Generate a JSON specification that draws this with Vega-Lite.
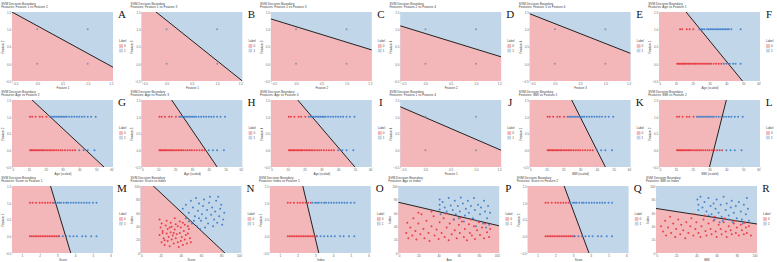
{
  "$schema": "https://vega.github.io/schema/vega-lite/v6.json",
  "background": "white",
  "padding": {"left": 1, "top": 1, "right": 0, "bottom": 0},
  "spacing": 0,
  "resolve": {"scale": {"color": "independent", "fill": "independent"}, "legend": {"color": "independent"}},
  "config": {
    "view": {"fill": "#C2D6EA", "stroke": null},
    "font": "Liberation Sans",
    "title": {"fontSize": 3.2, "fontWeight": "normal", "anchor": "start", "offset": 0.5, "color": "#444", "lineHeight": 3.6, "frame": "bounds"},
    "axis": {"grid": false, "domain": false, "tickSize": 0.8, "tickColor": "#888", "tickWidth": 0.4, "labelFontSize": 3, "labelColor": "#666", "labelPadding": 0.5, "titleFontSize": 3, "titleFontWeight": "normal", "titleColor": "#444", "titlePadding": 0.6},
    "axisX": {"tickCount": 6},
    "axisY": {"tickCount": 5},
    "legend": {"titleFontSize": 3, "labelFontSize": 3, "symbolType": "square", "symbolSize": 14, "symbolStrokeWidth": 0, "rowPadding": 0.6, "titlePadding": 1, "labelOffset": 1, "padding": 0, "titleFontWeight": "normal", "titleColor": "#444", "labelColor": "#444"}
  },
  "datasets": {
    "pBin": [{"x": 0, "y": 0}, {"x": 0, "y": 1}, {"x": 1, "y": 0}, {"x": 1, "y": 1}],
    "bA": [{"x": -0.5, "y": 1.5, "g": "0"}, {"x": 1.5, "y": -0.1, "g": "0"}],
    "bB": [{"x": -0.5, "y": 1.84, "g": "0"}, {"x": 1.5, "y": -0.5, "g": "0"}],
    "bC": [{"x": -0.5, "y": 1.3, "g": "0"}, {"x": 1.5, "y": 0.4, "g": "0"}],
    "bD": [{"x": -0.5, "y": 1.1, "g": "0"}, {"x": 1.5, "y": 0.2, "g": "0"}],
    "bE": [{"x": -0.5, "y": 1.45, "g": "0"}, {"x": 1.5, "y": 0.3, "g": "0"}],
    "bF": [{"x": 0, "y": 2.46, "g": "0"}, {"x": 60, "y": -1.12, "g": "0"}],
    "bG": [{"x": 0, "y": 2.06, "g": "0"}, {"x": 60, "y": -0.75, "g": "0"}],
    "bH": [{"x": 0, "y": 2.83, "g": "0"}, {"x": 60, "y": -1.61, "g": "0"}],
    "bI": [{"x": 0, "y": 2.44, "g": "0"}, {"x": 60, "y": -1.09, "g": "0"}],
    "bJ": [{"x": -0.5, "y": 1.3, "g": "0"}, {"x": 1.5, "y": 0.0, "g": "0"}],
    "bK": [{"x": 0, "y": 4.0, "g": "0"}, {"x": 60, "y": -2.0, "g": "0"}],
    "bL": [{"x": 0, "y": -6.5, "g": "0"}, {"x": 60, "y": 5.5, "g": "0"}],
    "bM": [{"x": 0.44, "y": 5.31, "g": "0"}, {"x": 6.13, "y": -4.68, "g": "0"}],
    "bN": [{"x": 0, "y": 118.1, "g": "0"}, {"x": 100, "y": -23.1, "g": "0"}],
    "bO": [{"x": 0.44, "y": 5.63, "g": "0"}, {"x": 6.13, "y": -7.01, "g": "0"}],
    "bP": [{"x": 0, "y": 75.8, "g": "0"}, {"x": 100, "y": 40.6, "g": "0"}],
    "bQ": [{"x": 0.44, "y": 4.44, "g": "0"}, {"x": 6.13, "y": -3.69, "g": "0"}],
    "bR": [{"x": 0, "y": 66.5, "g": "0"}, {"x": 100, "y": 43.3, "g": "0"}],
    "pF": [
      {"x": 12.5, "y": 1, "c": "0"}, {"x": 13.8, "y": 1, "c": "0"}, {"x": 16.5, "y": 1, "c": "0"}, {"x": 18.2, "y": 1, "c": "0"}, {"x": 20.4, "y": 1, "c": "0"},
      {"x": 24, "y": 1, "c": "1"}, {"x": 25, "y": 1, "c": "1"}, {"x": 26, "y": 1, "c": "1"}, {"x": 27, "y": 1, "c": "1"}, {"x": 28.5, "y": 1, "c": "1"}, {"x": 29.5, "y": 1, "c": "1"}, {"x": 30.5, "y": 1, "c": "1"}, {"x": 31.5, "y": 1, "c": "1"}, {"x": 32.5, "y": 1, "c": "1"}, {"x": 33.5, "y": 1, "c": "1"}, {"x": 34.5, "y": 1, "c": "1"}, {"x": 35.5, "y": 1, "c": "1"}, {"x": 36.5, "y": 1, "c": "1"}, {"x": 37.5, "y": 1, "c": "1"}, {"x": 38.5, "y": 1, "c": "1"}, {"x": 39.5, "y": 1, "c": "1"}, {"x": 40.5, "y": 1, "c": "1"}, {"x": 41.5, "y": 1, "c": "1"}, {"x": 43, "y": 1, "c": "1"}, {"x": 48.5, "y": 1, "c": "1"},
      {"x": 10.8, "y": 0, "c": "0"}, {"x": 11.5, "y": 0, "c": "0"}, {"x": 12.2, "y": 0, "c": "0"}, {"x": 13, "y": 0, "c": "0"}, {"x": 13.8, "y": 0, "c": "0"}, {"x": 14.5, "y": 0, "c": "0"}, {"x": 15.3, "y": 0, "c": "0"}, {"x": 16, "y": 0, "c": "0"}, {"x": 17, "y": 0, "c": "0"}, {"x": 17.8, "y": 0, "c": "0"}, {"x": 18.6, "y": 0, "c": "0"}, {"x": 19.5, "y": 0, "c": "0"}, {"x": 20.5, "y": 0, "c": "0"}, {"x": 21.3, "y": 0, "c": "0"}, {"x": 22, "y": 0, "c": "0"}, {"x": 23, "y": 0, "c": "0"}, {"x": 24, "y": 0, "c": "0"}, {"x": 25, "y": 0, "c": "0"}, {"x": 26, "y": 0, "c": "0"}, {"x": 27, "y": 0, "c": "0"}, {"x": 28, "y": 0, "c": "0"}, {"x": 29, "y": 0, "c": "0"}, {"x": 30, "y": 0, "c": "0"}, {"x": 31, "y": 0, "c": "0"}, {"x": 32.5, "y": 0, "c": "0"}, {"x": 34, "y": 0, "c": "0"}, {"x": 35.5, "y": 0, "c": "0"}, {"x": 37, "y": 0, "c": "0"},
      {"x": 38.5, "y": 0, "c": "1"}, {"x": 40, "y": 0, "c": "1"}, {"x": 42, "y": 0, "c": "1"}, {"x": 44, "y": 0, "c": "1"}, {"x": 45.5, "y": 0, "c": "1"}, {"x": 48.5, "y": 0, "c": "1"}
    ],
    "pG": [
      {"x": 10.7, "y": 1, "c": "0"}, {"x": 12, "y": 1, "c": "0"}, {"x": 14, "y": 1, "c": "0"}, {"x": 16.5, "y": 1, "c": "0"}, {"x": 18, "y": 1, "c": "0"}, {"x": 20.5, "y": 1, "c": "0"},
      {"x": 22.5, "y": 1, "c": "1"}, {"x": 23.5, "y": 1, "c": "1"}, {"x": 24.5, "y": 1, "c": "1"}, {"x": 25.5, "y": 1, "c": "1"}, {"x": 26.5, "y": 1, "c": "1"}, {"x": 27.5, "y": 1, "c": "1"}, {"x": 28.5, "y": 1, "c": "1"}, {"x": 29.5, "y": 1, "c": "1"}, {"x": 30.5, "y": 1, "c": "1"}, {"x": 31.5, "y": 1, "c": "1"}, {"x": 32.5, "y": 1, "c": "1"}, {"x": 34, "y": 1, "c": "1"}, {"x": 35.5, "y": 1, "c": "1"}, {"x": 37, "y": 1, "c": "1"}, {"x": 38.5, "y": 1, "c": "1"}, {"x": 40, "y": 1, "c": "1"}, {"x": 41.5, "y": 1, "c": "1"}, {"x": 43, "y": 1, "c": "1"}, {"x": 45, "y": 1, "c": "1"}, {"x": 47, "y": 1, "c": "1"}, {"x": 49.7, "y": 1, "c": "1"},
      {"x": 10.7, "y": 0, "c": "0"}, {"x": 11.4, "y": 0, "c": "0"}, {"x": 12, "y": 0, "c": "0"}, {"x": 12.8, "y": 0, "c": "0"}, {"x": 13.5, "y": 0, "c": "0"}, {"x": 14.2, "y": 0, "c": "0"}, {"x": 15, "y": 0, "c": "0"}, {"x": 15.8, "y": 0, "c": "0"}, {"x": 16.6, "y": 0, "c": "0"}, {"x": 17.4, "y": 0, "c": "0"}, {"x": 18.2, "y": 0, "c": "0"}, {"x": 19, "y": 0, "c": "0"}, {"x": 20, "y": 0, "c": "0"}, {"x": 21, "y": 0, "c": "0"}, {"x": 22, "y": 0, "c": "0"}, {"x": 23, "y": 0, "c": "0"}, {"x": 24, "y": 0, "c": "0"}, {"x": 25, "y": 0, "c": "0"}, {"x": 26.2, "y": 0, "c": "0"}, {"x": 27.5, "y": 0, "c": "0"}, {"x": 28.8, "y": 0, "c": "0"}, {"x": 30, "y": 0, "c": "0"}, {"x": 31.5, "y": 0, "c": "0"}, {"x": 33, "y": 0, "c": "0"}, {"x": 34.5, "y": 0, "c": "0"}, {"x": 36, "y": 0, "c": "0"}, {"x": 37.5, "y": 0, "c": "0"},
      {"x": 40, "y": 0, "c": "1"}, {"x": 42.5, "y": 0, "c": "1"}, {"x": 45, "y": 0, "c": "1"}, {"x": 49, "y": 0, "c": "1"}
    ],
    "pM": [
      {"x": 1.45, "y": 1, "c": "0"}, {"x": 1.6, "y": 1, "c": "0"}, {"x": 1.8, "y": 1, "c": "0"}, {"x": 2.0, "y": 1, "c": "0"}, {"x": 2.15, "y": 1, "c": "0"}, {"x": 2.3, "y": 1, "c": "0"}, {"x": 2.45, "y": 1, "c": "0"}, {"x": 2.6, "y": 1, "c": "0"}, {"x": 2.75, "y": 1, "c": "0"},
      {"x": 2.85, "y": 1, "c": "1"}, {"x": 3.0, "y": 1, "c": "1"}, {"x": 3.1, "y": 1, "c": "1"}, {"x": 3.2, "y": 1, "c": "1"}, {"x": 3.35, "y": 1, "c": "1"}, {"x": 3.5, "y": 1, "c": "1"}, {"x": 3.6, "y": 1, "c": "1"}, {"x": 3.75, "y": 1, "c": "1"}, {"x": 3.9, "y": 1, "c": "1"}, {"x": 4.05, "y": 1, "c": "1"}, {"x": 4.2, "y": 1, "c": "1"}, {"x": 4.35, "y": 1, "c": "1"}, {"x": 4.5, "y": 1, "c": "1"}, {"x": 4.65, "y": 1, "c": "1"}, {"x": 4.8, "y": 1, "c": "1"}, {"x": 5.0, "y": 1, "c": "1"}, {"x": 5.2, "y": 1, "c": "1"},
      {"x": 1.45, "y": 0, "c": "0"}, {"x": 1.55, "y": 0, "c": "0"}, {"x": 1.65, "y": 0, "c": "0"}, {"x": 1.75, "y": 0, "c": "0"}, {"x": 1.85, "y": 0, "c": "0"}, {"x": 1.95, "y": 0, "c": "0"}, {"x": 2.05, "y": 0, "c": "0"}, {"x": 2.15, "y": 0, "c": "0"}, {"x": 2.25, "y": 0, "c": "0"}, {"x": 2.35, "y": 0, "c": "0"}, {"x": 2.45, "y": 0, "c": "0"}, {"x": 2.55, "y": 0, "c": "0"}, {"x": 2.65, "y": 0, "c": "0"}, {"x": 2.75, "y": 0, "c": "0"}, {"x": 2.85, "y": 0, "c": "0"}, {"x": 2.95, "y": 0, "c": "0"}, {"x": 3.05, "y": 0, "c": "0"},
      {"x": 3.1, "y": 0, "c": "1"}, {"x": 3.3, "y": 0, "c": "1"}, {"x": 3.5, "y": 0, "c": "1"}, {"x": 3.7, "y": 0, "c": "1"}, {"x": 3.9, "y": 0, "c": "1"}, {"x": 4.1, "y": 0, "c": "1"}, {"x": 4.4, "y": 0, "c": "1"}, {"x": 4.6, "y": 0, "c": "1"}, {"x": 4.9, "y": 0, "c": "1"}, {"x": 5.2, "y": 0, "c": "1"}
    ],
    "pN": [
      {"x": 19, "y": 50, "c": "0"}, {"x": 21, "y": 44, "c": "0"}, {"x": 20, "y": 38, "c": "0"}, {"x": 22, "y": 33, "c": "0"}, {"x": 19, "y": 27, "c": "0"}, {"x": 23, "y": 22, "c": "0"}, {"x": 21, "y": 16, "c": "0"}, {"x": 24, "y": 12, "c": "0"}, {"x": 26, "y": 48, "c": "0"}, {"x": 25, "y": 41, "c": "0"}, {"x": 27, "y": 36, "c": "0"}, {"x": 26, "y": 29, "c": "0"}, {"x": 28, "y": 24, "c": "0"}, {"x": 27, "y": 18, "c": "0"}, {"x": 29, "y": 10, "c": "0"}, {"x": 30, "y": 45, "c": "0"}, {"x": 31, "y": 39, "c": "0"}, {"x": 30, "y": 31, "c": "0"}, {"x": 32, "y": 26, "c": "0"}, {"x": 31, "y": 20, "c": "0"}, {"x": 33, "y": 14, "c": "0"}, {"x": 34, "y": 52, "c": "0"}, {"x": 35, "y": 43, "c": "0"}, {"x": 34, "y": 35, "c": "0"}, {"x": 36, "y": 28, "c": "0"}, {"x": 35, "y": 22, "c": "0"}, {"x": 37, "y": 16, "c": "0"}, {"x": 38, "y": 9, "c": "0"}, {"x": 39, "y": 47, "c": "0"}, {"x": 40, "y": 38, "c": "0"}, {"x": 39, "y": 30, "c": "0"}, {"x": 41, "y": 24, "c": "0"}, {"x": 40, "y": 18, "c": "0"}, {"x": 42, "y": 12, "c": "0"}, {"x": 44, "y": 42, "c": "0"}, {"x": 43, "y": 33, "c": "0"}, {"x": 45, "y": 27, "c": "0"}, {"x": 44, "y": 20, "c": "0"}, {"x": 46, "y": 14, "c": "0"}, {"x": 48, "y": 36, "c": "0"}, {"x": 47, "y": 29, "c": "0"}, {"x": 49, "y": 22, "c": "0"}, {"x": 50, "y": 16, "c": "0"}, {"x": 22, "y": 30, "c": "0"}, {"x": 29, "y": 38, "c": "0"}, {"x": 33, "y": 30, "c": "0"}, {"x": 37, "y": 40, "c": "0"}, {"x": 42, "y": 45, "c": "0"}, {"x": 47, "y": 40, "c": "0"}, {"x": 24, "y": 19, "c": "0"},
      {"x": 42, "y": 66, "c": "1"}, {"x": 45, "y": 72, "c": "1"}, {"x": 48, "y": 60, "c": "1"}, {"x": 50, "y": 78, "c": "1"}, {"x": 52, "y": 68, "c": "1"}, {"x": 54, "y": 55, "c": "1"}, {"x": 55, "y": 82, "c": "1"}, {"x": 57, "y": 63, "c": "1"}, {"x": 58, "y": 74, "c": "1"}, {"x": 60, "y": 48, "c": "1"}, {"x": 61, "y": 58, "c": "1"}, {"x": 62, "y": 70, "c": "1"}, {"x": 63, "y": 80, "c": "1"}, {"x": 65, "y": 52, "c": "1"}, {"x": 66, "y": 64, "c": "1"}, {"x": 67, "y": 44, "c": "1"}, {"x": 68, "y": 75, "c": "1"}, {"x": 70, "y": 57, "c": "1"}, {"x": 71, "y": 68, "c": "1"}, {"x": 72, "y": 40, "c": "1"}, {"x": 73, "y": 50, "c": "1"}, {"x": 74, "y": 62, "c": "1"}, {"x": 75, "y": 78, "c": "1"}, {"x": 76, "y": 45, "c": "1"}, {"x": 78, "y": 55, "c": "1"}, {"x": 79, "y": 66, "c": "1"}, {"x": 80, "y": 72, "c": "1"}, {"x": 82, "y": 50, "c": "1"}, {"x": 83, "y": 60, "c": "1"}, {"x": 45, "y": 52, "c": "1"}, {"x": 48, "y": 47, "c": "1"}, {"x": 51, "y": 44, "c": "1"}, {"x": 56, "y": 40, "c": "1"}, {"x": 59, "y": 36, "c": "1"}, {"x": 64, "y": 38, "c": "1"}, {"x": 69, "y": 84, "c": "1"}, {"x": 77, "y": 84, "c": "1"}, {"x": 81, "y": 42, "c": "1"}, {"x": 53, "y": 48, "c": "1"}, {"x": 58, "y": 52, "c": "1"}
    ],
    "pP": [
      {"x": 8, "y": 30, "c": "0"}, {"x": 9, "y": 45, "c": "0"}, {"x": 10, "y": 22, "c": "0"}, {"x": 12, "y": 38, "c": "0"}, {"x": 14, "y": 26, "c": "0"}, {"x": 15, "y": 52, "c": "0"}, {"x": 17, "y": 33, "c": "0"}, {"x": 18, "y": 20, "c": "0"}, {"x": 20, "y": 44, "c": "0"}, {"x": 22, "y": 28, "c": "0"}, {"x": 23, "y": 58, "c": "0"}, {"x": 25, "y": 36, "c": "0"}, {"x": 26, "y": 22, "c": "0"}, {"x": 28, "y": 48, "c": "0"}, {"x": 30, "y": 30, "c": "0"}, {"x": 31, "y": 18, "c": "0"}, {"x": 33, "y": 40, "c": "0"}, {"x": 35, "y": 55, "c": "0"}, {"x": 36, "y": 26, "c": "0"}, {"x": 38, "y": 35, "c": "0"}, {"x": 40, "y": 21, "c": "0"}, {"x": 41, "y": 46, "c": "0"}, {"x": 43, "y": 30, "c": "0"}, {"x": 45, "y": 52, "c": "0"}, {"x": 46, "y": 24, "c": "0"}, {"x": 48, "y": 38, "c": "0"}, {"x": 50, "y": 19, "c": "0"}, {"x": 51, "y": 44, "c": "0"}, {"x": 53, "y": 28, "c": "0"}, {"x": 55, "y": 50, "c": "0"}, {"x": 56, "y": 34, "c": "0"}, {"x": 58, "y": 22, "c": "0"}, {"x": 60, "y": 42, "c": "0"}, {"x": 61, "y": 30, "c": "0"}, {"x": 63, "y": 47, "c": "0"}, {"x": 65, "y": 24, "c": "0"}, {"x": 66, "y": 36, "c": "0"}, {"x": 68, "y": 19, "c": "0"}, {"x": 70, "y": 43, "c": "0"}, {"x": 71, "y": 30, "c": "0"}, {"x": 73, "y": 26, "c": "0"}, {"x": 75, "y": 40, "c": "0"}, {"x": 76, "y": 21, "c": "0"}, {"x": 78, "y": 34, "c": "0"}, {"x": 80, "y": 46, "c": "0"}, {"x": 81, "y": 27, "c": "0"}, {"x": 83, "y": 38, "c": "0"}, {"x": 85, "y": 22, "c": "0"}, {"x": 86, "y": 44, "c": "0"}, {"x": 88, "y": 31, "c": "0"}, {"x": 90, "y": 24, "c": "0"}, {"x": 91, "y": 36, "c": "0"}, {"x": 20, "y": 60, "c": "0"}, {"x": 33, "y": 62, "c": "0"}, {"x": 47, "y": 59, "c": "0"}, {"x": 62, "y": 53, "c": "0"}, {"x": 72, "y": 50, "c": "0"},
      {"x": 41, "y": 80, "c": "1"}, {"x": 41, "y": 72, "c": "1"}, {"x": 41, "y": 65, "c": "1"}, {"x": 42, "y": 58, "c": "1"}, {"x": 44, "y": 76, "c": "1"}, {"x": 46, "y": 68, "c": "1"}, {"x": 48, "y": 62, "c": "1"}, {"x": 50, "y": 82, "c": "1"}, {"x": 52, "y": 71, "c": "1"}, {"x": 54, "y": 64, "c": "1"}, {"x": 56, "y": 78, "c": "1"}, {"x": 57, "y": 58, "c": "1"}, {"x": 59, "y": 70, "c": "1"}, {"x": 61, "y": 62, "c": "1"}, {"x": 62, "y": 83, "c": "1"}, {"x": 64, "y": 74, "c": "1"}, {"x": 66, "y": 56, "c": "1"}, {"x": 67, "y": 66, "c": "1"}, {"x": 69, "y": 78, "c": "1"}, {"x": 70, "y": 60, "c": "1"}, {"x": 72, "y": 70, "c": "1"}, {"x": 74, "y": 52, "c": "1"}, {"x": 75, "y": 82, "c": "1"}, {"x": 76, "y": 64, "c": "1"}, {"x": 78, "y": 48, "c": "1"}, {"x": 79, "y": 72, "c": "1"}, {"x": 81, "y": 58, "c": "1"}, {"x": 82, "y": 68, "c": "1"}, {"x": 84, "y": 44, "c": "1"}, {"x": 85, "y": 78, "c": "1"}, {"x": 86, "y": 62, "c": "1"}, {"x": 88, "y": 52, "c": "1"}, {"x": 89, "y": 70, "c": "1"}, {"x": 90, "y": 42, "c": "1"}, {"x": 91, "y": 60, "c": "1"}, {"x": 55, "y": 50, "c": "1"}, {"x": 65, "y": 47, "c": "1"}, {"x": 77, "y": 40, "c": "1"}, {"x": 87, "y": 38, "c": "1"}, {"x": 60, "y": 52, "c": "1"}
    ],
    "pR": [
      {"x": 5, "y": 40, "c": "0"}, {"x": 7, "y": 32, "c": "0"}, {"x": 9, "y": 48, "c": "0"}, {"x": 10, "y": 26, "c": "0"}, {"x": 12, "y": 38, "c": "0"}, {"x": 14, "y": 54, "c": "0"}, {"x": 15, "y": 30, "c": "0"}, {"x": 17, "y": 44, "c": "0"}, {"x": 19, "y": 24, "c": "0"}, {"x": 20, "y": 36, "c": "0"}, {"x": 22, "y": 50, "c": "0"}, {"x": 24, "y": 28, "c": "0"}, {"x": 25, "y": 42, "c": "0"}, {"x": 27, "y": 34, "c": "0"}, {"x": 29, "y": 22, "c": "0"}, {"x": 30, "y": 46, "c": "0"}, {"x": 32, "y": 30, "c": "0"}, {"x": 34, "y": 40, "c": "0"}, {"x": 35, "y": 52, "c": "0"}, {"x": 37, "y": 26, "c": "0"}, {"x": 39, "y": 36, "c": "0"}, {"x": 40, "y": 46, "c": "0"}, {"x": 42, "y": 30, "c": "0"}, {"x": 44, "y": 24, "c": "0"}, {"x": 45, "y": 40, "c": "0"}, {"x": 47, "y": 50, "c": "0"}, {"x": 49, "y": 33, "c": "0"}, {"x": 50, "y": 26, "c": "0"}, {"x": 52, "y": 44, "c": "0"}, {"x": 54, "y": 36, "c": "0"}, {"x": 55, "y": 28, "c": "0"}, {"x": 57, "y": 48, "c": "0"}, {"x": 59, "y": 32, "c": "0"}, {"x": 60, "y": 24, "c": "0"}, {"x": 62, "y": 42, "c": "0"}, {"x": 64, "y": 36, "c": "0"}, {"x": 65, "y": 28, "c": "0"}, {"x": 67, "y": 46, "c": "0"}, {"x": 69, "y": 32, "c": "0"}, {"x": 70, "y": 24, "c": "0"}, {"x": 72, "y": 40, "c": "0"}, {"x": 74, "y": 34, "c": "0"}, {"x": 75, "y": 28, "c": "0"}, {"x": 77, "y": 44, "c": "0"}, {"x": 79, "y": 30, "c": "0"}, {"x": 80, "y": 38, "c": "0"}, {"x": 82, "y": 26, "c": "0"}, {"x": 84, "y": 42, "c": "0"}, {"x": 85, "y": 34, "c": "0"}, {"x": 87, "y": 28, "c": "0"}, {"x": 89, "y": 38, "c": "0"}, {"x": 90, "y": 30, "c": "0"}, {"x": 92, "y": 40, "c": "0"}, {"x": 94, "y": 26, "c": "0"}, {"x": 48, "y": 56, "c": "0"}, {"x": 58, "y": 54, "c": "0"}, {"x": 68, "y": 52, "c": "0"}, {"x": 78, "y": 48, "c": "0"}, {"x": 88, "y": 45, "c": "0"}, {"x": 38, "y": 58, "c": "0"},
      {"x": 41, "y": 80, "c": "1"}, {"x": 42, "y": 72, "c": "1"}, {"x": 42, "y": 64, "c": "1"}, {"x": 44, "y": 84, "c": "1"}, {"x": 46, "y": 68, "c": "1"}, {"x": 48, "y": 76, "c": "1"}, {"x": 50, "y": 62, "c": "1"}, {"x": 52, "y": 82, "c": "1"}, {"x": 54, "y": 70, "c": "1"}, {"x": 55, "y": 58, "c": "1"}, {"x": 57, "y": 74, "c": "1"}, {"x": 59, "y": 66, "c": "1"}, {"x": 60, "y": 80, "c": "1"}, {"x": 62, "y": 60, "c": "1"}, {"x": 64, "y": 72, "c": "1"}, {"x": 65, "y": 54, "c": "1"}, {"x": 67, "y": 84, "c": "1"}, {"x": 69, "y": 64, "c": "1"}, {"x": 70, "y": 74, "c": "1"}, {"x": 72, "y": 56, "c": "1"}, {"x": 74, "y": 68, "c": "1"}, {"x": 75, "y": 78, "c": "1"}, {"x": 77, "y": 60, "c": "1"}, {"x": 79, "y": 70, "c": "1"}, {"x": 80, "y": 52, "c": "1"}, {"x": 82, "y": 76, "c": "1"}, {"x": 84, "y": 62, "c": "1"}, {"x": 85, "y": 50, "c": "1"}, {"x": 87, "y": 72, "c": "1"}, {"x": 89, "y": 58, "c": "1"}, {"x": 90, "y": 82, "c": "1"}, {"x": 91, "y": 66, "c": "1"}, {"x": 92, "y": 48, "c": "1"}, {"x": 58, "y": 50, "c": "1"}, {"x": 66, "y": 48, "c": "1"}, {"x": 76, "y": 46, "c": "1"}, {"x": 86, "y": 44, "c": "1"}, {"x": 52, "y": 56, "c": "1"}, {"x": 63, "y": 46, "c": "1"}, {"x": 72, "y": 50, "c": "1"}
    ]
  },
  "vconcat": [
    {"spacing": 3.4, "resolve": {"scale": {"color": "independent", "fill": "independent"}, "legend": {"color": "independent"}}, "hconcat": [
      {"width": 101, "height": 69, "title": {"text": ["SVM Decision Boundary", "Features: Feature 1 vs Feature 2"]}, "layer": [
        {"data": {"name": "bA"}, "mark": {"type": "area", "clip": true}, "encoding": {"x": {"field": "x", "type": "quantitative", "scale": {"domain": [-0.5, 1.5], "nice": false}, "axis": {"values": [-0.5, 0, 0.5, 1, 1.5]}, "title": "Feature 1"}, "y": {"field": "y", "type": "quantitative", "scale": {"domain": [-0.5, 1.5], "nice": false}, "axis": {"values": [-0.5, 0, 0.5, 1, 1.5]}, "title": "Feature 2"}, "y2": {"datum": -0.5}, "color": {"field": "g", "type": "nominal", "scale": {"domain": ["0", "1"], "range": ["#F4B7B9", "#C2D6EA"]}, "title": "Label", "legend": {"orient": "none", "legendX": 107, "legendY": 28}}}},
        {"data": {"name": "bA"}, "mark": {"type": "line", "clip": true, "color": "#222", "strokeWidth": 1}, "encoding": {"x": {"field": "x", "type": "quantitative"}, "y": {"field": "y", "type": "quantitative"}}},
        {"data": {"name": "pBin"}, "mark": {"type": "circle", "size": 4, "color": "#8E8AA0", "opacity": 0.9}, "encoding": {"x": {"field": "x", "type": "quantitative"}, "y": {"field": "y", "type": "quantitative"}}},
        {"data": {"values": [{"t": "A"}]}, "mark": {"type": "text", "font": "Liberation Serif", "fontSize": 11, "dx": 9, "dy": 3, "color": "#111"}, "encoding": {"x": {"datum": 1.5}, "y": {"datum": 1.5}, "text": {"field": "t"}}}
      ]},
      {"width": 101, "height": 69, "title": {"text": ["SVM Decision Boundary", "Features: Feature 1 vs Feature 3"]}, "layer": [
        {"data": {"name": "bB"}, "mark": {"type": "area", "clip": true}, "encoding": {"x": {"field": "x", "type": "quantitative", "scale": {"domain": [-0.5, 1.5], "nice": false}, "axis": {"values": [-0.5, 0, 0.5, 1, 1.5]}, "title": "Feature 1"}, "y": {"field": "y", "type": "quantitative", "scale": {"domain": [-0.5, 1.5], "nice": false}, "axis": {"values": [-0.5, 0, 0.5, 1, 1.5]}, "title": "Feature 3"}, "y2": {"datum": -0.5}, "color": {"field": "g", "type": "nominal", "scale": {"domain": ["0", "1"], "range": ["#F4B7B9", "#C2D6EA"]}, "title": "Label", "legend": {"orient": "none", "legendX": 107, "legendY": 28}}}},
        {"data": {"name": "bB"}, "mark": {"type": "line", "clip": true, "color": "#222", "strokeWidth": 1}, "encoding": {"x": {"field": "x", "type": "quantitative"}, "y": {"field": "y", "type": "quantitative"}}},
        {"data": {"name": "pBin"}, "mark": {"type": "circle", "size": 4, "color": "#8E8AA0", "opacity": 0.9}, "encoding": {"x": {"field": "x", "type": "quantitative"}, "y": {"field": "y", "type": "quantitative"}}},
        {"data": {"values": [{"t": "B"}]}, "mark": {"type": "text", "font": "Liberation Serif", "fontSize": 11, "dx": 9, "dy": 3, "color": "#111"}, "encoding": {"x": {"datum": 1.5}, "y": {"datum": 1.5}, "text": {"field": "t"}}}
      ]},
      {"width": 101, "height": 69, "title": {"text": ["SVM Decision Boundary", "Features: Feature 2 vs Feature 3"]}, "layer": [
        {"data": {"name": "bC"}, "mark": {"type": "area", "clip": true}, "encoding": {"x": {"field": "x", "type": "quantitative", "scale": {"domain": [-0.5, 1.5], "nice": false}, "axis": {"values": [-0.5, 0, 0.5, 1, 1.5]}, "title": "Feature 2"}, "y": {"field": "y", "type": "quantitative", "scale": {"domain": [-0.5, 1.5], "nice": false}, "axis": {"values": [-0.5, 0, 0.5, 1, 1.5]}, "title": "Feature 3"}, "y2": {"datum": -0.5}, "color": {"field": "g", "type": "nominal", "scale": {"domain": ["0", "1"], "range": ["#F4B7B9", "#C2D6EA"]}, "title": "Label", "legend": {"orient": "none", "legendX": 107, "legendY": 28}}}},
        {"data": {"name": "bC"}, "mark": {"type": "line", "clip": true, "color": "#222", "strokeWidth": 1}, "encoding": {"x": {"field": "x", "type": "quantitative"}, "y": {"field": "y", "type": "quantitative"}}},
        {"data": {"name": "pBin"}, "mark": {"type": "circle", "size": 4, "color": "#8E8AA0", "opacity": 0.9}, "encoding": {"x": {"field": "x", "type": "quantitative"}, "y": {"field": "y", "type": "quantitative"}}},
        {"data": {"values": [{"t": "C"}]}, "mark": {"type": "text", "font": "Liberation Serif", "fontSize": 11, "dx": 9, "dy": 3, "color": "#111"}, "encoding": {"x": {"datum": 1.5}, "y": {"datum": 1.5}, "text": {"field": "t"}}}
      ]},
      {"width": 101, "height": 69, "title": {"text": ["SVM Decision Boundary", "Features: Feature 2 vs Feature 4"]}, "layer": [
        {"data": {"name": "bD"}, "mark": {"type": "area", "clip": true}, "encoding": {"x": {"field": "x", "type": "quantitative", "scale": {"domain": [-0.5, 1.5], "nice": false}, "axis": {"values": [-0.5, 0, 0.5, 1, 1.5]}, "title": "Feature 2"}, "y": {"field": "y", "type": "quantitative", "scale": {"domain": [-0.5, 1.5], "nice": false}, "axis": {"values": [-0.5, 0, 0.5, 1, 1.5]}, "title": "Feature 4"}, "y2": {"datum": -0.5}, "color": {"field": "g", "type": "nominal", "scale": {"domain": ["0", "1"], "range": ["#F4B7B9", "#C2D6EA"]}, "title": "Label", "legend": {"orient": "none", "legendX": 107, "legendY": 28}}}},
        {"data": {"name": "bD"}, "mark": {"type": "line", "clip": true, "color": "#222", "strokeWidth": 1}, "encoding": {"x": {"field": "x", "type": "quantitative"}, "y": {"field": "y", "type": "quantitative"}}},
        {"data": {"name": "pBin"}, "mark": {"type": "circle", "size": 4, "color": "#8E8AA0", "opacity": 0.9}, "encoding": {"x": {"field": "x", "type": "quantitative"}, "y": {"field": "y", "type": "quantitative"}}},
        {"data": {"values": [{"t": "D"}]}, "mark": {"type": "text", "font": "Liberation Serif", "fontSize": 11, "dx": 9, "dy": 3, "color": "#111"}, "encoding": {"x": {"datum": 1.5}, "y": {"datum": 1.5}, "text": {"field": "t"}}}
      ]},
      {"width": 101, "height": 69, "title": {"text": ["SVM Decision Boundary", "Features: Feature 3 vs Feature 4"]}, "layer": [
        {"data": {"name": "bE"}, "mark": {"type": "area", "clip": true}, "encoding": {"x": {"field": "x", "type": "quantitative", "scale": {"domain": [-0.5, 1.5], "nice": false}, "axis": {"values": [-0.5, 0, 0.5, 1, 1.5]}, "title": "Feature 3"}, "y": {"field": "y", "type": "quantitative", "scale": {"domain": [-0.5, 1.5], "nice": false}, "axis": {"values": [-0.5, 0, 0.5, 1, 1.5]}, "title": "Feature 4"}, "y2": {"datum": -0.5}, "color": {"field": "g", "type": "nominal", "scale": {"domain": ["0", "1"], "range": ["#F4B7B9", "#C2D6EA"]}, "title": "Label", "legend": {"orient": "none", "legendX": 107, "legendY": 28}}}},
        {"data": {"name": "bE"}, "mark": {"type": "line", "clip": true, "color": "#222", "strokeWidth": 1}, "encoding": {"x": {"field": "x", "type": "quantitative"}, "y": {"field": "y", "type": "quantitative"}}},
        {"data": {"name": "pBin"}, "mark": {"type": "circle", "size": 4, "color": "#8E8AA0", "opacity": 0.9}, "encoding": {"x": {"field": "x", "type": "quantitative"}, "y": {"field": "y", "type": "quantitative"}}},
        {"data": {"values": [{"t": "E"}]}, "mark": {"type": "text", "font": "Liberation Serif", "fontSize": 11, "dx": 9, "dy": 3, "color": "#111"}, "encoding": {"x": {"datum": 1.5}, "y": {"datum": 1.5}, "text": {"field": "t"}}}
      ]},
      {"width": 101, "height": 69, "title": {"text": ["SVM Decision Boundary", "Features: Age vs Feature 1"]}, "layer": [
        {"data": {"name": "bF"}, "mark": {"type": "area", "clip": true}, "encoding": {"x": {"field": "x", "type": "quantitative", "scale": {"domain": [0, 60], "nice": false}, "title": "Age (scaled)"}, "y": {"field": "y", "type": "quantitative", "scale": {"domain": [-0.5, 1.5], "nice": false}, "axis": {"values": [-0.5, 0, 0.5, 1, 1.5]}, "title": "Feature 1"}, "y2": {"datum": -0.5}, "color": {"field": "g", "type": "nominal", "scale": {"domain": ["0", "1"], "range": ["#F4B7B9", "#C2D6EA"]}, "title": "Label", "legend": {"orient": "none", "legendX": 107, "legendY": 28}}}},
        {"data": {"name": "bF"}, "mark": {"type": "line", "clip": true, "color": "#222", "strokeWidth": 1}, "encoding": {"x": {"field": "x", "type": "quantitative"}, "y": {"field": "y", "type": "quantitative"}}},
        {"data": {"name": "pF"}, "mark": {"type": "circle", "size": 4, "opacity": 0.9}, "encoding": {"x": {"field": "x", "type": "quantitative"}, "y": {"field": "y", "type": "quantitative"}, "fill": {"field": "c", "type": "nominal", "scale": {"domain": ["0", "1"], "range": ["#E8333C", "#3B7DC8"]}, "legend": null}}},
        {"data": {"values": [{"t": "F"}]}, "mark": {"type": "text", "font": "Liberation Serif", "fontSize": 11, "dx": 9, "dy": 3, "color": "#111"}, "encoding": {"x": {"datum": 60}, "y": {"datum": 1.5}, "text": {"field": "t"}}}
      ]}
    ]},
    {"spacing": 3.4, "resolve": {"scale": {"color": "independent", "fill": "independent"}, "legend": {"color": "independent"}}, "hconcat": [
      {"width": 101, "height": 67, "title": {"text": ["SVM Decision Boundary", "Features: Age vs Feature 2"]}, "layer": [
        {"data": {"name": "bG"}, "mark": {"type": "area", "clip": true}, "encoding": {"x": {"field": "x", "type": "quantitative", "scale": {"domain": [0, 60], "nice": false}, "title": "Age (scaled)"}, "y": {"field": "y", "type": "quantitative", "scale": {"domain": [-0.5, 1.5], "nice": false}, "axis": {"values": [-0.5, 0, 0.5, 1, 1.5]}, "title": "Feature 2"}, "y2": {"datum": -0.5}, "color": {"field": "g", "type": "nominal", "scale": {"domain": ["0", "1"], "range": ["#F4B7B9", "#C2D6EA"]}, "title": "Label", "legend": {"orient": "none", "legendX": 107, "legendY": 27}}}},
        {"data": {"name": "bG"}, "mark": {"type": "line", "clip": true, "color": "#222", "strokeWidth": 1}, "encoding": {"x": {"field": "x", "type": "quantitative"}, "y": {"field": "y", "type": "quantitative"}}},
        {"data": {"name": "pG"}, "mark": {"type": "circle", "size": 4, "opacity": 0.9}, "encoding": {"x": {"field": "x", "type": "quantitative"}, "y": {"field": "y", "type": "quantitative"}, "fill": {"field": "c", "type": "nominal", "scale": {"domain": ["0", "1"], "range": ["#E8333C", "#3B7DC8"]}, "legend": null}}},
        {"data": {"values": [{"t": "G"}]}, "mark": {"type": "text", "font": "Liberation Serif", "fontSize": 11, "dx": 9, "dy": 3, "color": "#111"}, "encoding": {"x": {"datum": 60}, "y": {"datum": 1.5}, "text": {"field": "t"}}}
      ]},
      {"width": 101, "height": 67, "title": {"text": ["SVM Decision Boundary", "Features: Age vs Feature 3"]}, "layer": [
        {"data": {"name": "bH"}, "mark": {"type": "area", "clip": true}, "encoding": {"x": {"field": "x", "type": "quantitative", "scale": {"domain": [0, 60], "nice": false}, "title": "Age (scaled)"}, "y": {"field": "y", "type": "quantitative", "scale": {"domain": [-0.5, 1.5], "nice": false}, "axis": {"values": [-0.5, 0, 0.5, 1, 1.5]}, "title": "Feature 3"}, "y2": {"datum": -0.5}, "color": {"field": "g", "type": "nominal", "scale": {"domain": ["0", "1"], "range": ["#F4B7B9", "#C2D6EA"]}, "title": "Label", "legend": {"orient": "none", "legendX": 107, "legendY": 27}}}},
        {"data": {"name": "bH"}, "mark": {"type": "line", "clip": true, "color": "#222", "strokeWidth": 1}, "encoding": {"x": {"field": "x", "type": "quantitative"}, "y": {"field": "y", "type": "quantitative"}}},
        {"data": {"name": "pG"}, "mark": {"type": "circle", "size": 4, "opacity": 0.9}, "encoding": {"x": {"field": "x", "type": "quantitative"}, "y": {"field": "y", "type": "quantitative"}, "fill": {"field": "c", "type": "nominal", "scale": {"domain": ["0", "1"], "range": ["#E8333C", "#3B7DC8"]}, "legend": null}}},
        {"data": {"values": [{"t": "H"}]}, "mark": {"type": "text", "font": "Liberation Serif", "fontSize": 11, "dx": 9, "dy": 3, "color": "#111"}, "encoding": {"x": {"datum": 60}, "y": {"datum": 1.5}, "text": {"field": "t"}}}
      ]},
      {"width": 101, "height": 67, "title": {"text": ["SVM Decision Boundary", "Features: Age vs Feature 4"]}, "layer": [
        {"data": {"name": "bI"}, "mark": {"type": "area", "clip": true}, "encoding": {"x": {"field": "x", "type": "quantitative", "scale": {"domain": [0, 60], "nice": false}, "title": "Age (scaled)"}, "y": {"field": "y", "type": "quantitative", "scale": {"domain": [-0.5, 1.5], "nice": false}, "axis": {"values": [-0.5, 0, 0.5, 1, 1.5]}, "title": "Feature 4"}, "y2": {"datum": -0.5}, "color": {"field": "g", "type": "nominal", "scale": {"domain": ["0", "1"], "range": ["#F4B7B9", "#C2D6EA"]}, "title": "Label", "legend": {"orient": "none", "legendX": 107, "legendY": 27}}}},
        {"data": {"name": "bI"}, "mark": {"type": "line", "clip": true, "color": "#222", "strokeWidth": 1}, "encoding": {"x": {"field": "x", "type": "quantitative"}, "y": {"field": "y", "type": "quantitative"}}},
        {"data": {"name": "pG"}, "mark": {"type": "circle", "size": 4, "opacity": 0.9}, "encoding": {"x": {"field": "x", "type": "quantitative"}, "y": {"field": "y", "type": "quantitative"}, "fill": {"field": "c", "type": "nominal", "scale": {"domain": ["0", "1"], "range": ["#E8333C", "#3B7DC8"]}, "legend": null}}},
        {"data": {"values": [{"t": "I"}]}, "mark": {"type": "text", "font": "Liberation Serif", "fontSize": 11, "dx": 9, "dy": 3, "color": "#111"}, "encoding": {"x": {"datum": 60}, "y": {"datum": 1.5}, "text": {"field": "t"}}}
      ]},
      {"width": 101, "height": 67, "title": {"text": ["SVM Decision Boundary", "Features: Feature 1 vs Feature 4"]}, "layer": [
        {"data": {"name": "bJ"}, "mark": {"type": "area", "clip": true}, "encoding": {"x": {"field": "x", "type": "quantitative", "scale": {"domain": [-0.5, 1.5], "nice": false}, "axis": {"values": [-0.5, 0, 0.5, 1, 1.5]}, "title": "Feature 1"}, "y": {"field": "y", "type": "quantitative", "scale": {"domain": [-0.5, 1.5], "nice": false}, "axis": {"values": [-0.5, 0, 0.5, 1, 1.5]}, "title": "Feature 4"}, "y2": {"datum": -0.5}, "color": {"field": "g", "type": "nominal", "scale": {"domain": ["0", "1"], "range": ["#F4B7B9", "#C2D6EA"]}, "title": "Label", "legend": {"orient": "none", "legendX": 107, "legendY": 27}}}},
        {"data": {"name": "bJ"}, "mark": {"type": "line", "clip": true, "color": "#222", "strokeWidth": 1}, "encoding": {"x": {"field": "x", "type": "quantitative"}, "y": {"field": "y", "type": "quantitative"}}},
        {"data": {"name": "pBin"}, "mark": {"type": "circle", "size": 4, "color": "#8E8AA0", "opacity": 0.9}, "encoding": {"x": {"field": "x", "type": "quantitative"}, "y": {"field": "y", "type": "quantitative"}}},
        {"data": {"values": [{"t": "J"}]}, "mark": {"type": "text", "font": "Liberation Serif", "fontSize": 11, "dx": 9, "dy": 3, "color": "#111"}, "encoding": {"x": {"datum": 1.5}, "y": {"datum": 1.5}, "text": {"field": "t"}}}
      ]},
      {"width": 101, "height": 67, "title": {"text": ["SVM Decision Boundary", "Features: BMI vs Feature 1"]}, "layer": [
        {"data": {"name": "bK"}, "mark": {"type": "area", "clip": true}, "encoding": {"x": {"field": "x", "type": "quantitative", "scale": {"domain": [0, 60], "nice": false}, "title": "BMI (scaled)"}, "y": {"field": "y", "type": "quantitative", "scale": {"domain": [-0.5, 1.5], "nice": false}, "axis": {"values": [-0.5, 0, 0.5, 1, 1.5]}, "title": "Feature 1"}, "y2": {"datum": -0.5}, "color": {"field": "g", "type": "nominal", "scale": {"domain": ["0", "1"], "range": ["#F4B7B9", "#C2D6EA"]}, "title": "Label", "legend": {"orient": "none", "legendX": 107, "legendY": 27}}}},
        {"data": {"name": "bK"}, "mark": {"type": "line", "clip": true, "color": "#222", "strokeWidth": 1}, "encoding": {"x": {"field": "x", "type": "quantitative"}, "y": {"field": "y", "type": "quantitative"}}},
        {"data": {"name": "pG"}, "mark": {"type": "circle", "size": 4, "opacity": 0.9}, "encoding": {"x": {"field": "x", "type": "quantitative"}, "y": {"field": "y", "type": "quantitative"}, "fill": {"field": "c", "type": "nominal", "scale": {"domain": ["0", "1"], "range": ["#E8333C", "#3B7DC8"]}, "legend": null}}},
        {"data": {"values": [{"t": "K"}]}, "mark": {"type": "text", "font": "Liberation Serif", "fontSize": 11, "dx": 9, "dy": 3, "color": "#111"}, "encoding": {"x": {"datum": 60}, "y": {"datum": 1.5}, "text": {"field": "t"}}}
      ]},
      {"width": 101, "height": 67, "title": {"text": ["SVM Decision Boundary", "Features: BMI vs Feature 2"]}, "layer": [
        {"data": {"name": "bL"}, "mark": {"type": "area", "clip": true}, "encoding": {"x": {"field": "x", "type": "quantitative", "scale": {"domain": [0, 60], "nice": false}, "title": "BMI (scaled)"}, "y": {"field": "y", "type": "quantitative", "scale": {"domain": [-0.5, 1.5], "nice": false}, "axis": {"values": [-0.5, 0, 0.5, 1, 1.5]}, "title": "Feature 2"}, "y2": {"datum": 1.5}, "color": {"field": "g", "type": "nominal", "scale": {"domain": ["0", "1"], "range": ["#F4B7B9", "#C2D6EA"]}, "title": "Label", "legend": {"orient": "none", "legendX": 107, "legendY": 27}}}},
        {"data": {"name": "bL"}, "mark": {"type": "line", "clip": true, "color": "#222", "strokeWidth": 1}, "encoding": {"x": {"field": "x", "type": "quantitative"}, "y": {"field": "y", "type": "quantitative"}}},
        {"data": {"name": "pG"}, "mark": {"type": "circle", "size": 4, "opacity": 0.9}, "encoding": {"x": {"field": "x", "type": "quantitative"}, "y": {"field": "y", "type": "quantitative"}, "fill": {"field": "c", "type": "nominal", "scale": {"domain": ["0", "1"], "range": ["#E8333C", "#3B7DC8"]}, "legend": null}}},
        {"data": {"values": [{"t": "L"}]}, "mark": {"type": "text", "font": "Liberation Serif", "fontSize": 11, "dx": 9, "dy": 3, "color": "#111"}, "encoding": {"x": {"datum": 60}, "y": {"datum": 1.5}, "text": {"field": "t"}}}
      ]}
    ]},
    {"spacing": 3.4, "resolve": {"scale": {"color": "independent", "fill": "independent"}, "legend": {"color": "independent"}}, "hconcat": [
      {"width": 101, "height": 67, "title": {"text": ["SVM Decision Boundary", "Features: Score vs Feature 1"]}, "layer": [
        {"data": {"name": "bM"}, "mark": {"type": "area", "clip": true}, "encoding": {"x": {"field": "x", "type": "quantitative", "scale": {"domain": [0.44, 6.13], "nice": false}, "axis": {"values": [1, 2, 3, 4, 5, 6]}, "title": "Score"}, "y": {"field": "y", "type": "quantitative", "scale": {"domain": [-0.5, 1.5], "nice": false}, "axis": {"values": [-0.5, 0, 0.5, 1, 1.5]}, "title": "Feature 1"}, "y2": {"datum": -0.5}, "color": {"field": "g", "type": "nominal", "scale": {"domain": ["0", "1"], "range": ["#F4B7B9", "#C2D6EA"]}, "title": "Label", "legend": {"orient": "none", "legendX": 107, "legendY": 27}}}},
        {"data": {"name": "bM"}, "mark": {"type": "line", "clip": true, "color": "#222", "strokeWidth": 1}, "encoding": {"x": {"field": "x", "type": "quantitative"}, "y": {"field": "y", "type": "quantitative"}}},
        {"data": {"name": "pM"}, "mark": {"type": "circle", "size": 4, "opacity": 0.9}, "encoding": {"x": {"field": "x", "type": "quantitative"}, "y": {"field": "y", "type": "quantitative"}, "fill": {"field": "c", "type": "nominal", "scale": {"domain": ["0", "1"], "range": ["#E8333C", "#3B7DC8"]}, "legend": null}}},
        {"data": {"values": [{"t": "M"}]}, "mark": {"type": "text", "font": "Liberation Serif", "fontSize": 11, "dx": 9, "dy": 3, "color": "#111"}, "encoding": {"x": {"datum": 6.13}, "y": {"datum": 1.5}, "text": {"field": "t"}}}
      ]},
      {"width": 101, "height": 67, "title": {"text": ["SVM Decision Boundary", "Features: Score vs Index"]}, "layer": [
        {"data": {"name": "bN"}, "mark": {"type": "area", "clip": true}, "encoding": {"x": {"field": "x", "type": "quantitative", "scale": {"domain": [0, 100], "nice": false}, "title": "Score"}, "y": {"field": "y", "type": "quantitative", "scale": {"domain": [0, 100], "nice": false}, "title": "Index"}, "y2": {"datum": 0}, "color": {"field": "g", "type": "nominal", "scale": {"domain": ["0", "1"], "range": ["#F4B7B9", "#C2D6EA"]}, "title": "Label", "legend": {"orient": "none", "legendX": 107, "legendY": 27}}}},
        {"data": {"name": "bN"}, "mark": {"type": "line", "clip": true, "color": "#222", "strokeWidth": 1}, "encoding": {"x": {"field": "x", "type": "quantitative"}, "y": {"field": "y", "type": "quantitative"}}},
        {"data": {"name": "pN"}, "mark": {"type": "circle", "size": 4, "opacity": 0.9}, "encoding": {"x": {"field": "x", "type": "quantitative"}, "y": {"field": "y", "type": "quantitative"}, "fill": {"field": "c", "type": "nominal", "scale": {"domain": ["0", "1"], "range": ["#E8333C", "#3B7DC8"]}, "legend": null}}},
        {"data": {"values": [{"t": "N"}]}, "mark": {"type": "text", "font": "Liberation Serif", "fontSize": 11, "dx": 9, "dy": 3, "color": "#111"}, "encoding": {"x": {"datum": 100}, "y": {"datum": 100}, "text": {"field": "t"}}}
      ]},
      {"width": 101, "height": 67, "title": {"text": ["SVM Decision Boundary", "Features: Index vs Feature 1"]}, "layer": [
        {"data": {"name": "bO"}, "mark": {"type": "area", "clip": true}, "encoding": {"x": {"field": "x", "type": "quantitative", "scale": {"domain": [0.44, 6.13], "nice": false}, "axis": {"values": [1, 2, 3, 4, 5, 6]}, "title": "Index"}, "y": {"field": "y", "type": "quantitative", "scale": {"domain": [-0.5, 1.5], "nice": false}, "axis": {"values": [-0.5, 0, 0.5, 1, 1.5]}, "title": "Feature 1"}, "y2": {"datum": -0.5}, "color": {"field": "g", "type": "nominal", "scale": {"domain": ["0", "1"], "range": ["#F4B7B9", "#C2D6EA"]}, "title": "Label", "legend": {"orient": "none", "legendX": 107, "legendY": 27}}}},
        {"data": {"name": "bO"}, "mark": {"type": "line", "clip": true, "color": "#222", "strokeWidth": 1}, "encoding": {"x": {"field": "x", "type": "quantitative"}, "y": {"field": "y", "type": "quantitative"}}},
        {"data": {"name": "pM"}, "mark": {"type": "circle", "size": 4, "opacity": 0.9}, "encoding": {"x": {"field": "x", "type": "quantitative"}, "y": {"field": "y", "type": "quantitative"}, "fill": {"field": "c", "type": "nominal", "scale": {"domain": ["0", "1"], "range": ["#E8333C", "#3B7DC8"]}, "legend": null}}},
        {"data": {"values": [{"t": "O"}]}, "mark": {"type": "text", "font": "Liberation Serif", "fontSize": 11, "dx": 9, "dy": 3, "color": "#111"}, "encoding": {"x": {"datum": 6.13}, "y": {"datum": 1.5}, "text": {"field": "t"}}}
      ]},
      {"width": 101, "height": 67, "title": {"text": ["SVM Decision Boundary", "Features: Age vs Index"]}, "layer": [
        {"data": {"name": "bP"}, "mark": {"type": "area", "clip": true}, "encoding": {"x": {"field": "x", "type": "quantitative", "scale": {"domain": [0, 100], "nice": false}, "title": "Age"}, "y": {"field": "y", "type": "quantitative", "scale": {"domain": [0, 100], "nice": false}, "title": "Index"}, "y2": {"datum": 0}, "color": {"field": "g", "type": "nominal", "scale": {"domain": ["0", "1"], "range": ["#F4B7B9", "#C2D6EA"]}, "title": "Label", "legend": {"orient": "none", "legendX": 107, "legendY": 27}}}},
        {"data": {"name": "bP"}, "mark": {"type": "line", "clip": true, "color": "#222", "strokeWidth": 1}, "encoding": {"x": {"field": "x", "type": "quantitative"}, "y": {"field": "y", "type": "quantitative"}}},
        {"data": {"name": "pP"}, "mark": {"type": "circle", "size": 4, "opacity": 0.9}, "encoding": {"x": {"field": "x", "type": "quantitative"}, "y": {"field": "y", "type": "quantitative"}, "fill": {"field": "c", "type": "nominal", "scale": {"domain": ["0", "1"], "range": ["#E8333C", "#3B7DC8"]}, "legend": null}}},
        {"data": {"values": [{"t": "P"}]}, "mark": {"type": "text", "font": "Liberation Serif", "fontSize": 11, "dx": 9, "dy": 3, "color": "#111"}, "encoding": {"x": {"datum": 100}, "y": {"datum": 100}, "text": {"field": "t"}}}
      ]},
      {"width": 101, "height": 67, "title": {"text": ["SVM Decision Boundary", "Features: Score vs Feature 2"]}, "layer": [
        {"data": {"name": "bQ"}, "mark": {"type": "area", "clip": true}, "encoding": {"x": {"field": "x", "type": "quantitative", "scale": {"domain": [0.44, 6.13], "nice": false}, "axis": {"values": [1, 2, 3, 4, 5, 6]}, "title": "Score"}, "y": {"field": "y", "type": "quantitative", "scale": {"domain": [-0.5, 1.5], "nice": false}, "axis": {"values": [-0.5, 0, 0.5, 1, 1.5]}, "title": "Feature 2"}, "y2": {"datum": -0.5}, "color": {"field": "g", "type": "nominal", "scale": {"domain": ["0", "1"], "range": ["#F4B7B9", "#C2D6EA"]}, "title": "Label", "legend": {"orient": "none", "legendX": 107, "legendY": 27}}}},
        {"data": {"name": "bQ"}, "mark": {"type": "line", "clip": true, "color": "#222", "strokeWidth": 1}, "encoding": {"x": {"field": "x", "type": "quantitative"}, "y": {"field": "y", "type": "quantitative"}}},
        {"data": {"name": "pM"}, "mark": {"type": "circle", "size": 4, "opacity": 0.9}, "encoding": {"x": {"field": "x", "type": "quantitative"}, "y": {"field": "y", "type": "quantitative"}, "fill": {"field": "c", "type": "nominal", "scale": {"domain": ["0", "1"], "range": ["#E8333C", "#3B7DC8"]}, "legend": null}}},
        {"data": {"values": [{"t": "Q"}]}, "mark": {"type": "text", "font": "Liberation Serif", "fontSize": 11, "dx": 9, "dy": 3, "color": "#111"}, "encoding": {"x": {"datum": 6.13}, "y": {"datum": 1.5}, "text": {"field": "t"}}}
      ]},
      {"width": 101, "height": 67, "title": {"text": ["SVM Decision Boundary", "Features: BMI vs Index"]}, "layer": [
        {"data": {"name": "bR"}, "mark": {"type": "area", "clip": true}, "encoding": {"x": {"field": "x", "type": "quantitative", "scale": {"domain": [0, 100], "nice": false}, "title": "BMI"}, "y": {"field": "y", "type": "quantitative", "scale": {"domain": [0, 100], "nice": false}, "title": "Index"}, "y2": {"datum": 0}, "color": {"field": "g", "type": "nominal", "scale": {"domain": ["0", "1"], "range": ["#F4B7B9", "#C2D6EA"]}, "title": "Label", "legend": {"orient": "none", "legendX": 107, "legendY": 27}}}},
        {"data": {"name": "bR"}, "mark": {"type": "line", "clip": true, "color": "#222", "strokeWidth": 1}, "encoding": {"x": {"field": "x", "type": "quantitative"}, "y": {"field": "y", "type": "quantitative"}}},
        {"data": {"name": "pR"}, "mark": {"type": "circle", "size": 4, "opacity": 0.9}, "encoding": {"x": {"field": "x", "type": "quantitative"}, "y": {"field": "y", "type": "quantitative"}, "fill": {"field": "c", "type": "nominal", "scale": {"domain": ["0", "1"], "range": ["#E8333C", "#3B7DC8"]}, "legend": null}}},
        {"data": {"values": [{"t": "R"}]}, "mark": {"type": "text", "font": "Liberation Serif", "fontSize": 11, "dx": 9, "dy": 3, "color": "#111"}, "encoding": {"x": {"datum": 100}, "y": {"datum": 100}, "text": {"field": "t"}}}
      ]}
    ]}
  ]
}
